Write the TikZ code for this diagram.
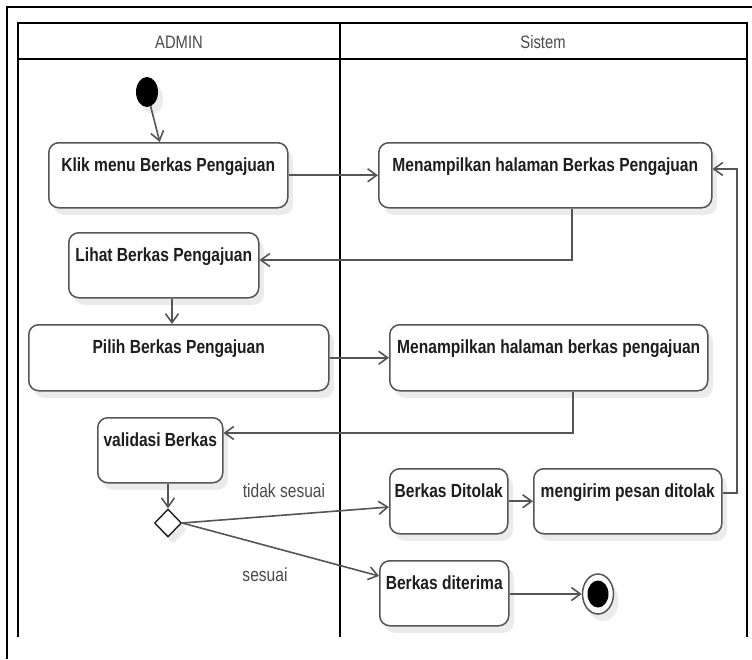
\documentclass[tikz,border=0pt]{standalone}
\usepackage{fontspec}
\newfontfamily\diafont[FakeStretch=0.82]{Liberation Sans}
\usetikzlibrary{arrows.meta,shapes.geometric,shadows}
\definecolor{edge}{HTML}{555555}
\definecolor{ink}{HTML}{1E1E1E}
\definecolor{lblc}{HTML}{4A4A4A}
\definecolor{shade}{HTML}{EBEBEB}
\newcommand{\acttext}[3]{\parbox[t][#2pt][t]{#1pt}{\centering\rule{0pt}{28.5pt}#3}}
\begin{document}
\begin{tikzpicture}[x=1pt,y=-1pt,
  shad/.style={drop shadow={shadow xshift=5pt, shadow yshift=-7pt, fill=shade, opacity=1}},
  act/.style={draw=edge, line width=1.5pt, rounded corners=10pt, fill=white, inner sep=0pt,
    anchor=north west, text=ink, font=\diafont\bfseries\fontsize{19}{22}\selectfont, shad},
  flow/.style={draw=edge, line width=1.6pt, -{Straight Barb[length=9pt,width=13pt]}},
  hdr/.style={text=lblc, font=\diafont\fontsize{18}{21}\selectfont, inner sep=0pt},
  lbl/.style={text=lblc, font=\diafont\fontsize{19}{22}\selectfont, inner sep=0pt},
]
\useasboundingbox (0,0) rectangle (752,659);
\fill[white] (0,0) rectangle (752,659);
% outer frame
\draw[line width=2pt] (7,659) -- (7,7) -- (752,7);
% swimlanes (open at the bottom)
\draw[line width=1.6pt] (18,637) -- (18,23) -- (747,23) -- (747,637);
\draw[line width=2pt] (18,59) -- (747,59);
\draw[line width=1.6pt] (340,23) -- (340,637);
\node[hdr] (hadmin) at (179,42) {ADMIN};
\node[hdr] (hsistem) at (543,42) {Sistem};

% start / end
\node[ellipse, fill=black, minimum width=22pt, minimum height=30pt, inner sep=0pt, shad] (start) at (147,92) {};
\node[ellipse, draw=edge, line width=1.5pt, fill=white, minimum width=31pt, minimum height=40pt, inner sep=0pt, shad] (end) at (598,594) {};
\node[ellipse, fill=black, minimum width=21pt, minimum height=27pt, inner sep=0pt] (endin) at (end) {};

% activities
\node[act] (klik) at (48,142) {\acttext{239}{65}{Klik menu Berkas Pengajuan}};
\node[act] (m1) at (378,142) {\acttext{333}{65}{Menampilkan halaman Berkas Pengajuan}};
\node[act] (lihat) at (68,232) {\acttext{190}{65}{Lihat Berkas Pengajuan}};
\node[act] (pilih) at (28,324) {\acttext{300}{66}{Pilih Berkas Pengajuan}};
\node[act] (m2) at (389,324) {\acttext{318}{66}{Menampilkan halaman berkas pengajuan}};
\node[act] (valid) at (97,417) {\acttext{125}{65}{validasi Berkas}};
\node[act] (ditolak) at (389,468) {\acttext{118}{65}{Berkas Ditolak}};
\node[act] (kirim) at (533,468) {\acttext{188}{65}{mengirim pesan ditolak}};
\node[act] (terima) at (379,560) {\acttext{129}{65}{Berkas diterima}};

% decision
\node[diamond, draw=ink, line width=1.4pt, fill=white, minimum width=27pt, minimum height=28pt, inner sep=0pt, shad] (dec) at (168,523) {};

% labels
\node[lbl] (ltidak) at (284,491) {tidak sesuai};
\node[lbl] (lsesuai) at (265,575) {sesuai};

% helper coordinates
\coordinate (c1) at (572,260);
\coordinate (c2) at (172,0);
\coordinate (c3) at (573,433);
\coordinate (c4) at (0,507);
\coordinate (c5) at (0,576);
\coordinate (c6) at (737,493);
\coordinate (c7) at (737,169);

% connectors
\draw[flow] (start) -- (klik);
\draw[flow] (klik) -- (m1);
\draw[flow] (m1.south -| c1) -- (c1) -- (lihat.east |- c1);
\draw[flow] (lihat.south -| c2) -- (pilih.north -| c2);
\draw[flow] (pilih) -- (m2);
\draw[flow] (m2.south -| c3) -- (c3) -- (valid.east |- c3);
\draw[flow] (valid.south -| dec.north) -- (dec.north);
\draw[flow] (dec.east) -- (ditolak.west |- c4);
\draw[flow] (dec.east) -- (terima.west |- c5);
\draw[flow] (ditolak) -- (kirim);
\draw[flow] (kirim.east |- c6) -- (c6) -- (c7) -- (m1.east |- c7);
\draw[flow] (terima.east |- end.center) -- (end);
\end{tikzpicture}
\end{document}
